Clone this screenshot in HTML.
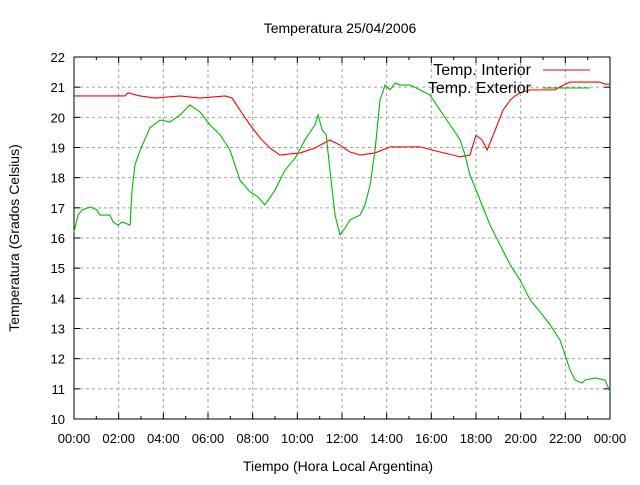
<!DOCTYPE html>
<html><head><meta charset="utf-8"><style>
body{margin:0;background:#fff}
svg text{font-family:"Liberation Sans",sans-serif;font-size:14px;fill:#000}
svg text.tl{font-size:13px}
svg text.lg{font-size:16px}
</style></head><body>
<svg id="c" width="640" height="480" xmlns="http://www.w3.org/2000/svg">
<text x="340" y="33" text-anchor="middle">Temperatura 25/04/2006</text>
<text x="338" y="471" text-anchor="middle">Tiempo (Hora Local Argentina)</text>
<text transform="translate(19,238) rotate(-90)" text-anchor="middle">Temperatura (Grados Celsius)</text>
<g id="grid"></g>
<g id="ticks"></g>
<rect x="74" y="57" width="536" height="362" fill="none" stroke="#000" stroke-width="1"/>
<polyline id="interior" fill="none" stroke="#ff0000" stroke-width="1.1"/>
<polyline id="exterior" fill="none" stroke="#00b800" stroke-width="1.1"/>
<g>
<text class="lg" x="531" y="75" text-anchor="end">Temp. Interior</text>
<line x1="543" y1="70" x2="590" y2="70" stroke="#ff0000" stroke-width="1.1"/>
<text class="lg" x="531" y="93" text-anchor="end">Temp. Exterior</text>
<line x1="543" y1="88" x2="590" y2="88" stroke="#00b800" stroke-width="1.1"/>
</g>
</svg>
<script>
const yTicks=[10,11,12,13,14,15,16,17,18,19,20,21,22];
const xTickHours=[0,2,4,6,8,10,12,14,16,18,20,22,24];
const xTickLabels=["00:00","02:00","04:00","06:00","08:00","10:00","12:00","14:00","16:00","18:00","20:00","22:00","00:00"];
const extHours=[0,0.18,0.36,0.72,1.03,1.16,1.61,1.75,1.97,2.15,2.51,2.6,2.73,2.96,3.4,3.85,4.3,4.75,5.19,5.64,6.09,6.54,6.99,7.43,7.88,8.24,8.55,9.0,9.45,9.9,10.34,10.57,10.79,10.93,11.11,11.29,11.46,11.69,11.91,12.14,12.36,12.81,13.03,13.26,13.48,13.7,13.93,14.15,14.38,14.6,15.05,15.5,15.94,16.39,16.84,17.29,17.51,17.73,18.18,18.63,19.08,19.53,19.97,20.42,20.87,21.32,21.76,21.99,22.21,22.44,22.75,22.88,23.33,23.78,24];
const extTemps=[16.2,16.76,16.93,17.03,16.93,16.76,16.76,16.53,16.43,16.53,16.43,17.59,18.42,18.91,19.65,19.91,19.85,20.08,20.41,20.18,19.75,19.42,18.91,17.92,17.53,17.36,17.1,17.59,18.25,18.65,19.25,19.51,19.75,20.08,19.58,19.42,18.25,16.76,16.1,16.33,16.6,16.76,17.1,17.76,18.91,20.57,21.07,20.91,21.14,21.07,21.07,20.91,20.74,20.24,19.75,19.25,18.75,18.09,17.26,16.43,15.77,15.11,14.61,13.95,13.55,13.12,12.62,12.12,11.63,11.29,11.19,11.29,11.36,11.29,10.9];
const intHours=[0,2.28,2.42,2.96,3.63,4.75,5.64,6.77,7.08,7.43,7.88,8.33,8.78,9.22,10.12,10.79,11.02,11.46,11.91,12.36,12.81,13.48,14.15,15.5,16.39,17.29,17.73,18.0,18.27,18.5,18.86,19.21,19.53,19.75,19.97,20.42,21.54,21.76,22.21,23.55,23.78,24];
const intTemps=[20.71,20.71,20.81,20.71,20.64,20.71,20.64,20.71,20.64,20.24,19.75,19.32,18.98,18.75,18.82,18.98,19.08,19.25,19.08,18.85,18.75,18.82,19.02,19.02,18.85,18.69,18.75,19.41,19.25,18.92,19.58,20.24,20.57,20.71,20.81,20.91,20.91,21.01,21.17,21.17,21.1,21.1];
const X0=74,X1=610,Y0=419,Y1=57;
const xs=h=>X0+(h/24)*(X1-X0);
const ys=t=>Y0-(t-10)/12*(Y0-Y1);
const NS="http://www.w3.org/2000/svg";
const svg=document.getElementById('c'),grid=document.getElementById('grid'),ticks=document.getElementById('ticks');
function mk(tag,attrs,parent){const e=document.createElementNS(NS,tag);for(const k in attrs)e.setAttribute(k,attrs[k]);parent.appendChild(e);return e;}
yTicks.forEach(v=>{const y=ys(v);
 if(v>10&&v<22){const g=mk('line',{x1:X0,x2:X1,y1:y,y2:y,stroke:'#a0a0a0','stroke-dasharray':'3,3'},grid);
 
 }
 mk('line',{x1:X0,x2:X0+6,y1:y,y2:y,stroke:'#000'},ticks);
 mk('line',{x1:X1-6,x2:X1,y1:y,y2:y,stroke:'#000'},ticks);
 const t=mk('text',{x:65,y:y+5,'text-anchor':'end','class':'tl'},svg);t.textContent=v;
 
 
});
for(let h=1;h<24;h+=2){const x=xs(h);mk('line',{x1:x,x2:x,y1:Y0,y2:Y0-3,stroke:'#000'},ticks);mk('line',{x1:x,x2:x,y1:Y1,y2:Y1+3,stroke:'#000'},ticks);}
xTickHours.forEach((h,i)=>{const x=xs(h);
 if(h>0&&h<24){const g=mk('line',{x1:x,x2:x,y1:Y1,y2:Y0,stroke:'#a0a0a0','stroke-dasharray':'3,3'},grid);
 
 }
 mk('line',{x1:x,x2:x,y1:Y0,y2:Y0-6,stroke:'#000'},ticks);
 mk('line',{x1:x,x2:x,y1:Y1,y2:Y1+6,stroke:'#000'},ticks);
 const t=mk('text',{x:x,y:443,'text-anchor':'middle','class':'tl'},svg);t.textContent=xTickLabels[i];
 
 
});
function pts(H,T){let p=[];for(let i=0;i<H.length;i++){p.push(xs(H[i])+','+ys(T[i]));}return p.join(' ');}
document.getElementById('interior').setAttribute('points',pts(intHours,intTemps));
document.getElementById('exterior').setAttribute('points',pts(extHours,extTemps));
</script>
</body></html>
